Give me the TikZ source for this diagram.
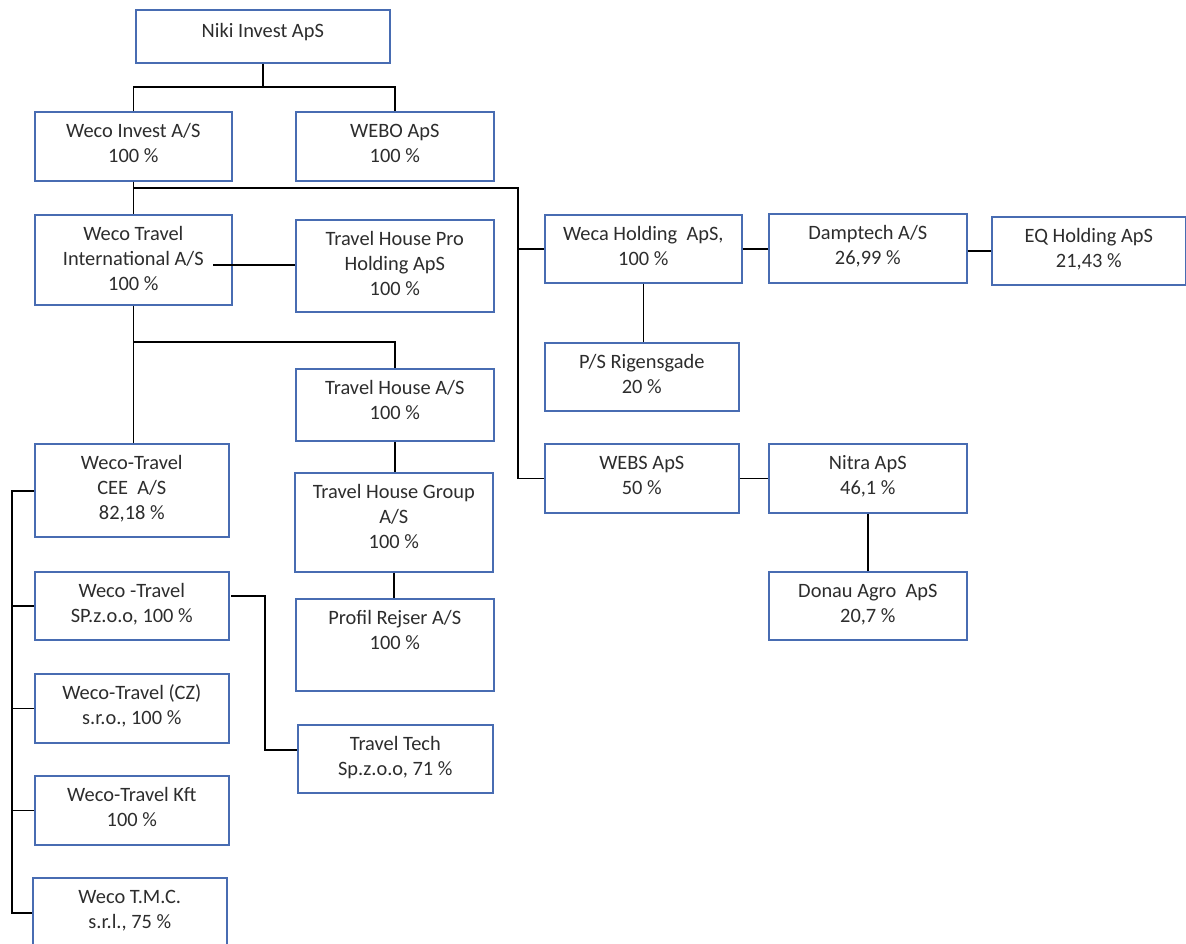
\documentclass[tikz,border=0pt]{standalone}
\usepackage{fontspec}
\setmainfont{Carlito}
\usepackage{xcolor}
\usepackage{tikz}
\usetikzlibrary{calc}

\definecolor{boxblue}{RGB}{72,108,178}
\definecolor{textgray}{RGB}{45,45,45}

\tikzset{
	orgbox/.style 2 args = {draw = boxblue, line width = 0.8pt, inner sep = 0pt, anchor = north west,
		text = textgray, font = \fontsize{10.2}{12.5}\selectfont,
		execute at begin node = {\begin{minipage}[t][\dimexpr#2pt/2\relax][t]{\dimexpr#1pt/2\relax}\centering\rule{0pt}{13pt}},
		execute at end node = {\end{minipage}}},
	link/.style = {draw = black, line width = 0.75pt}
}

\begin{document}
\begin{tikzpicture}[x = 0.5pt, y = -0.5pt]
					\fill [white] (0,0) rectangle (1186,943);
					\useasboundingbox (0,0) rectangle (1186,943);

					\begin{scope}
						\node [orgbox = {254}{53}] (niki) at (135,9) {\rule{0pt}{14pt}Niki Invest ApS};
						\node [orgbox = {197}{69}] (wi) at (34,111) {Weco Invest A/S\\100 \%};
						\node [orgbox = {198}{69}] (webo) at (295,111) {WEBO ApS\\100 \%};
						\node [orgbox = {197}{90}] (wti) at (34,214) {Weco Travel\\International A/S\\100 \%};
						\node [orgbox = {198}{92}] (thpro) at (295,219) {Travel House Pro\\Holding ApS\\100 \%};
					\end{scope}

					\begin{scope}
						\node [orgbox = {197}{68}] (weca) at (544,214) {Weca Holding\ \ ApS,\\100 \%};
						\node [orgbox = {198}{69}] (damp) at (768,213) {Damptech A/S\\26,99 \%};
						\node [orgbox = {194}{68}] (eq) at (991,216) {EQ Holding ApS\\21,43 \%};
						\node [orgbox = {194}{68}] (psr) at (544,342) {P/S Rigensgade\\20 \%};
						\node [orgbox = {194}{69}] (webs) at (544,443) {WEBS ApS\\50 \%};
						\node [orgbox = {198}{69}] (nitra) at (768,443) {Nitra ApS\\46,1 \%};
						\node [orgbox = {198}{68}] (donau) at (768,571) {Donau Agro\ \ ApS\\20,7 \%};
					\end{scope}

					\begin{scope}
						\node [orgbox = {198}{72}] (tha) at (295,368) {Travel House A/S\\100 \%};
						\node [orgbox = {198}{99}] (thg) at (294,472) {Travel House Group\\A/S\\100 \%};
						\node [orgbox = {198}{92}] (profil) at (295,598) {Profil Rejser A/S\\100 \%};
						\node [orgbox = {195}{68}] (ttech) at (297,724) {Travel Tech\\Sp.z.o.o, 71 \%};
					\end{scope}

					\begin{scope}
						\node [orgbox = {194}{93}] (cee) at (34,443) {Weco-Travel\\CEE\ \ A/S\\82,18 \%};
						\node [orgbox = {194}{68}] (sp) at (34,571) {Weco -Travel\\SP.z.o.o, 100 \%};
						\node [orgbox = {194}{69}] (cz) at (34,673) {Weco-Travel (CZ)\\s.r.o., 100 \%};
						\node [orgbox = {194}{69}] (kft) at (34,775) {Weco-Travel Kft\\100 \%};
						\node [orgbox = {194}{70}] (tmc) at (32,877) {Weco T.M.C.\\s.r.l., 75 \%};
					\end{scope}

					% bends and free ends
					\coordinate (nikibus) at (264,87);
					\coordinate (rbus) at (518,188);
					\coordinate (midbus) at (133,342);
					\coordinate (lbus) at (12,491);
					\coordinate (wtiend) at (213,265);
					\coordinate (spout) at (231,596);
					\coordinate (ttbend) at (265,750);

					\begin{scope}[link]
						\draw (niki.south) -- (niki.south |- nikibus);
						\draw (wi.north) |- (nikibus) -| (webo.north);
						\draw (wi.south) -- (wti.north);
						\draw (wi.south) |- (rbus) |- (webs.west);
						\draw (rbus |- weca.west) -- (weca.west);
						\draw (wtiend) -- (wtiend -| thpro.west);
						\draw (wti.south) -- (wti.south |- cee.north);
						\draw (midbus) -| (tha.north);
						\draw (tha.south) -- (tha.south |- thg.north);
						\draw (thg.south) -- (thg.south |- profil.north);
						\draw (weca.south) -- (weca.south |- psr.north);
						\draw (weca.east) -- (weca.east -| damp.west);
						\draw (eq.west -| damp.east) -- (eq.west);
						\draw (webs.east) -- (webs.east -| nitra.west);
						\draw (nitra.south) -- (nitra.south |- donau.north);
						\draw (spout) -| (ttbend) -- (ttbend -| ttech.west);
						\draw (cee.west |- lbus) -- (lbus) |- (tmc.west);
						\foreach \n in {sp, cz, kft}
							\draw (\n.west) -- (\n.west -| lbus);
					\end{scope}
				\end{tikzpicture}
\end{document}
